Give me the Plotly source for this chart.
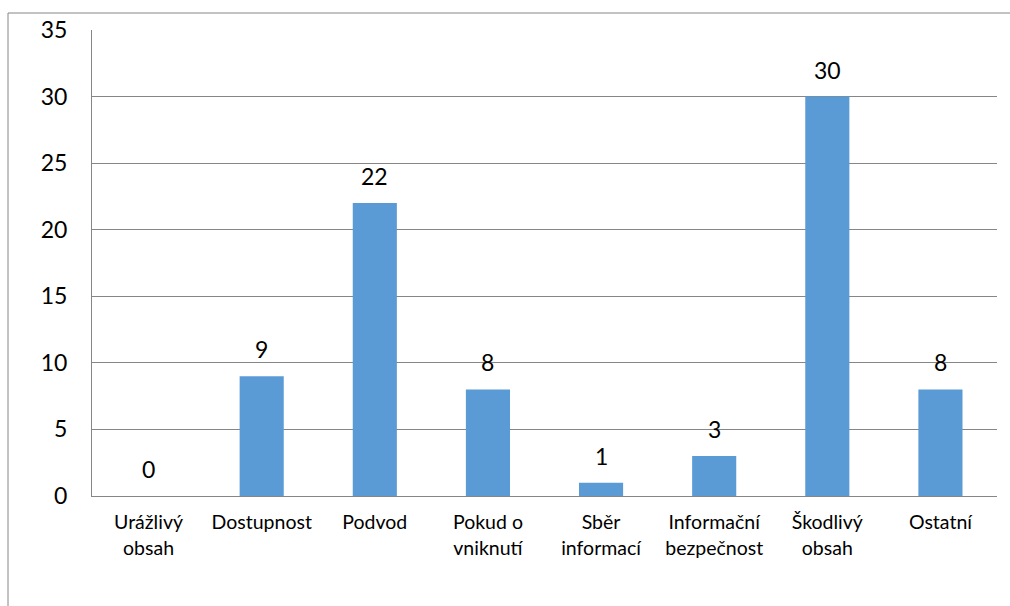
import plotly.graph_objects as go

categories = ["Urážlivý<br>obsah", "Dostupnost", "Podvod", "Pokud o<br>vniknutí",
              "Sběr<br>informací", "Informační<br>bezpečnost", "Škodlivý<br>obsah", "Ostatní"]
values = [0, 9, 22, 8, 1, 3, 30, 8]
y_ticks = [0, 5, 10, 15, 20, 25, 30, 35]

FONT = "Lato, 'Open Sans', sans-serif"

fig = go.Figure()
fig.add_trace(go.Bar(x=categories, y=values, marker=dict(color="#5B9BD5", line=dict(width=0)),
                     width=0.39))

for c, v in zip(categories, values):
    fig.add_annotation(x=c, y=v, text=str(v), showarrow=False, yanchor="bottom",
                       yshift=11, font=dict(size=23, color="#000000", family=FONT))

fig.update_layout(
    width=1010, height=606,
    margin=dict(l=92, r=13, t=30, b=110),
    paper_bgcolor="white", plot_bgcolor="white",
    showlegend=False,
    font=dict(family=FONT, color="#000000"),
    xaxis=dict(showgrid=False, showline=True, linecolor="#868686", linewidth=1,
               tickfont=dict(size=19.5, family=FONT), ticks="", ticklen=0,
               ticklabelstandoff=9),
    yaxis=dict(range=[0, 35], tickvals=y_ticks, ticktext=[str(t) for t in y_ticks],
               showgrid=True, gridcolor="#868686", gridwidth=1,
               showline=True, linecolor="#868686", linewidth=1,
               zeroline=False, tickfont=dict(size=23, family=FONT), ticks="",
               ticklabelstandoff=19),
    bargap=0.6,
)

# outer chart frame (cropped by the image edges)
fig.add_shape(type="rect", xref="paper", yref="paper",
              x0=-84/905, y0=-110/466 - 0.05, x1=1.2, y1=(30 - 13) / 466 + 1,
              line=dict(color="#868686", width=1), layer="below")

fig.write_html("out.html")
